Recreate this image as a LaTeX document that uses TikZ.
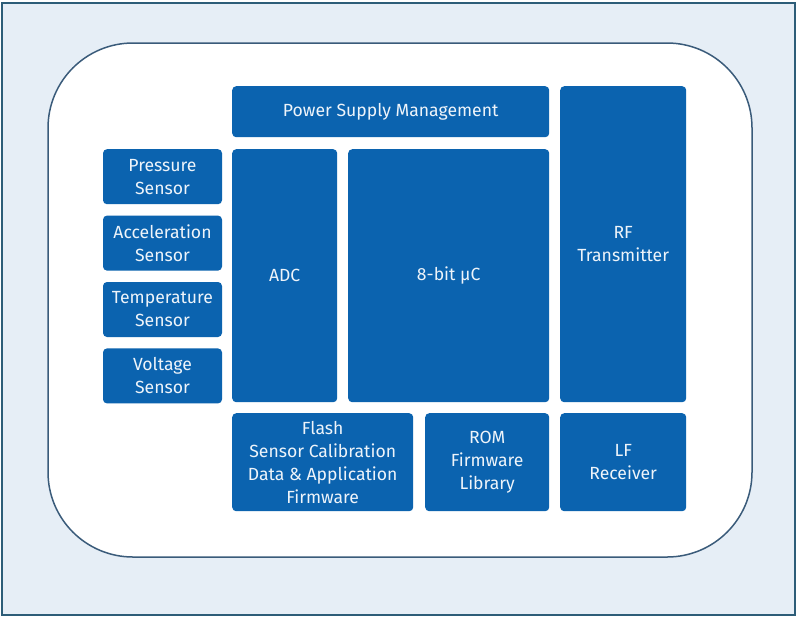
\documentclass[tikz,border=0pt]{standalone}
\usepackage{fontspec}
\setmainfont{Fira Sans}
\usepackage{xcolor}
\usepackage{tikz}
\usetikzlibrary{positioning}
\definecolor{chipBlue}{HTML}{0B63AF}
\definecolor{frameLine}{HTML}{2D5D78}
\definecolor{frameFill}{HTML}{E6EEF6}
\definecolor{boardLine}{HTML}{3A5B7A}
\definecolor{labelWhite}{HTML}{EEF4FA}

\begin{document}
\begin{tikzpicture}[
            x=1pt, y=-1pt,
            blockbox/.style={
                fill=chipBlue,
                rounded corners=4pt,
                anchor=north west,
                inner sep=0pt,
                align=center,
                text=labelWhite,
                font=\fontsize{17.6}{23}\selectfont
            },
            sensorbox/.style={
                blockbox,
                anchor=north,
                minimum width=119pt,
                minimum height=55pt
            }
        ]

        \useasboundingbox (0,0) rectangle (799,625);

        % --- frame and board ---
        \draw[frameLine, fill=frameFill, line width=2pt]
            (2,3) rectangle (795,615);
        \draw[boardLine, fill=white, line width=1.5pt, rounded corners=85pt]
            (48,43) rectangle (752,557);

        % --- core blocks ---
        \node[blockbox, minimum width=317pt, minimum height=51pt]
            (psm) at (232,86) {Power Supply Management};

        \node[blockbox, minimum width=126pt, minimum height=316pt]
            (rftx) at (560,86) {RF\\Transmitter};

        \node[blockbox, minimum width=105pt, minimum height=253pt]
            (adc) at (232,149) {ADC};

        \node[blockbox, minimum width=201pt, minimum height=253pt]
            (mcu) at (348,149) {8-bit µC};

        % --- memories and receiver ---
        \node[blockbox, minimum width=181pt, minimum height=98pt]
            (flash) at (232,413)
            {Flash\\Sensor Calibration\\Data \& Application\\Firmware};

        \node[blockbox, minimum width=124pt, minimum height=98pt]
            (rom) at (425,413) {ROM\\Firmware\\Library};

        \node[blockbox, minimum width=126pt, minimum height=98pt]
            (lfrx) at (560,413) {LF\\Receiver};

        % --- sensors ---
        \node[sensorbox]
            (pressure) at (162.5,149) {Pressure\\Sensor};

        \node[sensorbox]
            (accel) at ([yshift=-11pt]pressure.south) {Acceleration\\Sensor};

        \node[sensorbox]
            (temp) at ([yshift=-11pt]accel.south) {Temperature\\Sensor};

        \node[sensorbox]
            (voltage) at ([yshift=-11pt]temp.south) {Voltage\\Sensor};

        \end{tikzpicture}
\end{document}
